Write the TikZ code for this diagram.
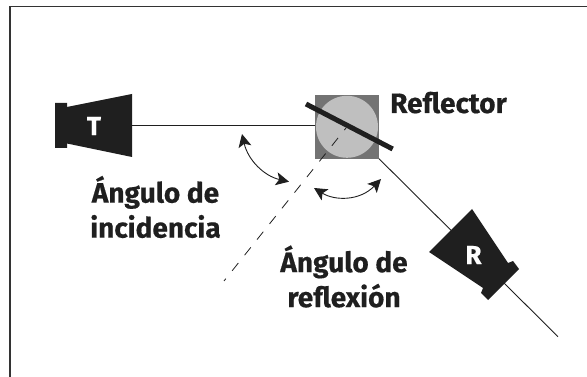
\documentclass[tikz,border=0pt]{standalone}
\usepackage{fontspec}
\setmainfont[BoldFeatures={FakeBold=0.5}]{Fira Sans}
\usetikzlibrary{arrows.meta}
\colorlet{penColor}{black!88}
\colorlet{fill1}{black!55}
\colorlet{fill2}{black!25}
\tikzset{>=Stealth}
\tikzset{
  beam/.style={penColor,line width=.9pt},
  horn/.style={penColor,fill=penColor,draw=none},
  swing/.style={penColor,line width=.9pt,<->,>={Stealth[length=13pt,width=13pt,inset=3pt]}},
  caption/.style={font=\fontsize{28}{35}\selectfont\bfseries,text=penColor,align=center,inner sep=0pt},
  hornlabel/.style={font=\fontsize{26}{28}\selectfont\bfseries,text=white,inner sep=0pt}
}
\begin{document}
\begin{tikzpicture}[x=1pt,y=-1pt]
      \useasboundingbox (0,0) rectangle (587,377);
      \draw [black!80,line width=1.2pt] (10,377)--(10,6.5)--(587,6.5);
      % reflector
      \fill [fill1] (315,95) rectangle (379,158.7);
      \fill [fill2] (347,126.8) circle (31);
      \coordinate (mirrorIn) at (315,125.7);
      \coordinate (mirrorOut) at (379,158.7);
      \coordinate (mirrorMid) at (346,128);
      % beams
      \coordinate (hornT) at (132,125.7);
      \coordinate (beamEnd) at (558,336.7);
      \draw [beam] (hornT)--(mirrorIn);
      \draw [beam] (mirrorOut)--(beamEnd);
      \coordinate (normalEnd) at (224,281);
      \draw [penColor,line width=.8pt,dash pattern=on 10pt off 10pt,dash phase=7pt] (normalEnd)--(mirrorMid);
      \draw [penColor,line width=5pt] (306,104)--(392.7,149);
      % horns
      \fill [horn] (55,103)--(67,103)--(67,107)--(132,94)--(132,157)--(67,143.5)--(67,148)--(55,148)--cycle;
      \fill [horn] (472,209)--(429,252)--(483,288)--(481,293)--(488,300)--(519,269)--(513,261)--(508,263)--cycle;
      \node [hornlabel] (labelT) at (94,126) {T};
      \node [hornlabel] (labelR) at (473.5,255) {R};
      % angles
      \coordinate (inA) at (242,134);
      \coordinate (inB) at (289,181.7);
      \coordinate (outA) at (314,188);
      \coordinate (outB) at (381,179);
      \draw [swing] (inA) .. controls (248,160) and (264,176) .. (inB);
      \draw [swing] (outA) .. controls (335,201) and (360,201) .. (outB);
      % labels
      \node [caption] (incidence) at (155.5,207) {Ángulo de\\incidencia};
      \node [caption] (reflection) at (344,276.5) {Ángulo de\\reflexión};
      \node [caption,anchor=base west] (reflector) at (390,113) {Reflector};
    \end{tikzpicture}
\end{document}
